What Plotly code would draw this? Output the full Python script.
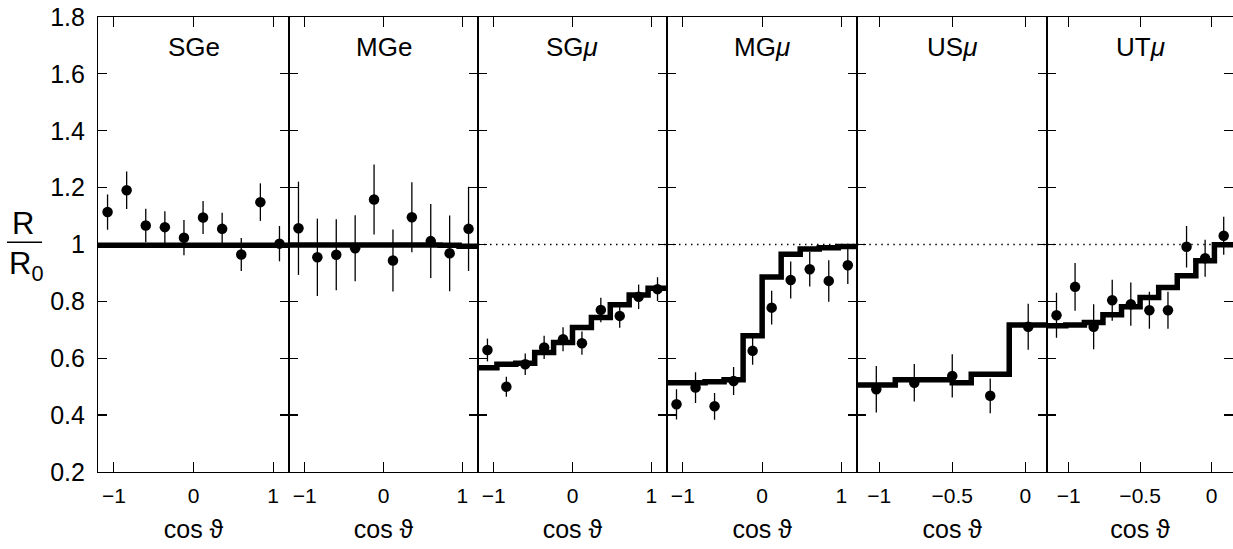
import plotly.graph_objects as go

# ---------------- data ----------------
panel_names = ["SGe", "MGe", "SG<i>μ</i>", "MG<i>μ</i>", "US<i>μ</i>", "UT<i>μ</i>"]

full_edges = [-1.2, -0.96, -0.72, -0.48, -0.24, 0.0, 0.24, 0.48, 0.72, 0.96, 1.2]
full_centres = [-1.08, -0.84, -0.6, -0.36, -0.12, 0.12, 0.36, 0.6, 0.84, 1.08]
half_edges = [-1.15, -1.02, -0.89, -0.76, -0.63, -0.5, -0.37, -0.24, -0.11, 0.02, 0.15]
half_centres10 = [-1.085, -0.955, -0.825, -0.695, -0.565, -0.435, -0.305, -0.175, -0.045, 0.085]
half_centres5 = [-1.02, -0.76, -0.5, -0.24, 0.02]

# measured ratios R/R0 and errors
sge_y = [1.114, 1.191, 1.067, 1.061, 1.024, 1.095, 1.055, 0.965, 1.149, 1.003]
sge_err = [0.062, 0.066, 0.059, 0.056, 0.062, 0.058, 0.057, 0.058, 0.066, 0.062]
mge_y = [1.057, 0.955, 0.964, 0.987, 1.158, 0.944, 1.096, 1.012, 0.969, 1.055]
mge_err = [0.164, 0.136, 0.125, 0.116, 0.123, 0.109, 0.123, 0.130, 0.133, 0.148]
sgmu_y = [0.629, 0.500, 0.579, 0.638, 0.667, 0.653, 0.770, 0.749, 0.816, 0.843]
sgmu_err = [0.040, 0.035, 0.038, 0.041, 0.042, 0.041, 0.043, 0.042, 0.043, 0.042]
mgmu_y = [0.438, 0.497, 0.431, 0.520, 0.626, 0.778, 0.875, 0.913, 0.872, 0.927]
mgmu_err = [0.053, 0.054, 0.047, 0.049, 0.049, 0.059, 0.065, 0.061, 0.073, 0.066]
usmu_y = [0.491, 0.514, 0.538, 0.468, 0.711]
usmu_err = [0.082, 0.066, 0.076, 0.061, 0.081]
utmu_y = [0.751, 0.851, 0.711, 0.804, 0.790, 0.769, 0.769, 0.992, 0.952, 1.031]
utmu_err = [0.079, 0.084, 0.079, 0.072, 0.076, 0.065, 0.065, 0.073, 0.065, 0.067]

# expectation (histogram) per bin
sge_exp = [0.997, 0.997, 0.997, 0.997, 0.997, 0.997, 0.997, 0.997, 0.997, 0.997]
mge_exp = [0.998, 0.998, 0.998, 0.998, 0.998, 0.998, 0.998, 0.998, 0.997, 0.994]
sgmu_exp = [0.567, 0.579, 0.582, 0.620, 0.655, 0.708, 0.743, 0.788, 0.822, 0.846]
mgmu_exp = [0.514, 0.514, 0.517, 0.524, 0.679, 0.886, 0.966, 0.984, 0.989, 0.993]
usmu_exp = [0.506, 0.506, 0.524, 0.524, 0.524, 0.514, 0.544, 0.544, 0.717, 0.717]
utmu_exp = [0.714, 0.717, 0.726, 0.753, 0.781, 0.814, 0.849, 0.890, 0.943, 0.999]

ref_level = 1.0

y_tickvals = [0.2, 0.4, 0.6, 0.8, 1.0, 1.2, 1.4, 1.6, 1.8]
y_ticktext = ["0.2", "0.4", "0.6", "0.8", "1", "1.2", "1.4", "1.6", "1.8"]
# positions of the left-side tick marks (a hair off the major values so they are kept)
y_marks = [0.4005, 0.6005, 0.8005, 1.0005, 1.2005, 1.4005, 1.6005]
full_xtickvals = [-1, 0, 1]
full_xticktext = ["\u22121", "0", "1"]
half_xtickvals = [-1, -0.5, 0]
half_xticktext = ["\u22121", "\u22120.5", "0"]
x_title = "cos \u03d1"

panels = [
    dict(x=full_centres, y=sge_y, err=sge_err, edges=full_edges, exp=sge_exp, half=False, dotted=False),
    dict(x=full_centres, y=mge_y, err=mge_err, edges=full_edges, exp=mge_exp, half=False, dotted=False),
    dict(x=full_centres, y=sgmu_y, err=sgmu_err, edges=full_edges, exp=sgmu_exp, half=False, dotted=True),
    dict(x=full_centres, y=mgmu_y, err=mgmu_err, edges=full_edges, exp=mgmu_exp, half=False, dotted=True),
    dict(x=half_centres5, y=usmu_y, err=usmu_err, edges=half_edges, exp=usmu_exp, half=True, dotted=True),
    dict(x=half_centres10, y=utmu_y, err=utmu_err, edges=half_edges, exp=utmu_exp, half=True, dotted=True),
]

# panel borders in paper fraction
bounds = [0.0, 0.1683, 0.3348, 0.5013, 0.6690, 0.8363, 1.0]

FONT = "Liberation Sans, Arial, Helvetica, sans-serif"

fig = go.Figure()
layout = dict(
    width=1233, height=549,
    margin=dict(l=98, r=0, t=17, b=77),
    paper_bgcolor="white", plot_bgcolor="white",
    showlegend=False,
    font=dict(family=FONT, color="black"),
)

annotations = []
for i, p in enumerate(panels):
    n = i + 1
    xs = "" if n == 1 else str(n)
    ys = xs
    rng = [-1.15, 0.15] if p["half"] else [-1.2, 1.2]

    # dotted reference line at R/R0 = 1
    if p["dotted"]:
        fig.add_trace(go.Scatter(
            x=[rng[0], rng[1]], y=[ref_level, ref_level], mode="lines",
            line=dict(color="black", width=1.4, dash="1.5px,4.5px"),
            xaxis="x" + xs, yaxis="y" + ys, hoverinfo="skip"))

    # expectation histogram
    fig.add_trace(go.Scatter(
        x=p["edges"], y=p["exp"] + [p["exp"][-1]], mode="lines",
        line=dict(color="black", width=5.5, shape="hv"),
        xaxis="x" + xs, yaxis="y" + ys, hoverinfo="skip"))

    # data points
    fig.add_trace(go.Scatter(
        x=p["x"], y=p["y"], mode="markers",
        marker=dict(color="black", size=10.5),
        error_y=dict(type="data", array=p["err"], color="black", thickness=1.3, width=0),
        xaxis="x" + xs, yaxis="y" + ys))

    layout["xaxis" + xs] = dict(
        domain=[bounds[i], bounds[i + 1]], anchor="y" + ys, range=rng,
        tickmode="array",
        tickvals=half_xtickvals if p["half"] else full_xtickvals,
        ticktext=half_xticktext if p["half"] else full_xticktext,
        ticks="inside", ticklen=10, tickwidth=1.3, tickcolor="black",
        showline=True, linewidth=1.3, linecolor="black", mirror="ticks",
        showgrid=False, zeroline=False,
        tickfont=dict(size=21, family=FONT, color="black"),
        ticklabelstandoff=5,
        title=dict(text=x_title, font=dict(size=25, family=FONT, color="black"), standoff=14),
    )
    layout["yaxis" + ys] = dict(
        domain=[0, 1], anchor="x" + xs, range=[0.2, 1.8],
        tickmode="array", tickvals=y_tickvals,
        ticktext=[t + "\u00a0" for t in y_ticktext],
        ticks="inside", ticklen=9, tickwidth=1.4, tickcolor="black",
        showline=True, linewidth=1.3, linecolor="black", mirror="ticks",
        showgrid=False, zeroline=False,
        showticklabels=(n == 1),
        tickfont=dict(size=25, family=FONT, color="black"),
        minor=dict(tickmode="array", tickvals=y_marks, ticks="inside",
                   ticklen=9, tickwidth=1.4, tickcolor="black"),
    )
    annotations.append(dict(
        text=panel_names[i], xref="x" + xs + " domain", x=0.5, yref="paper", y=0.934,
        xanchor="center", yanchor="middle", showarrow=False,
        font=dict(size=26, family=FONT, color="black")))

# y-axis fraction label R / R0
annotations.append(dict(text="R", xref="paper", yref="paper", x=-0.066, y=0.547,
                        xanchor="center", yanchor="middle", showarrow=False,
                        font=dict(size=31, family=FONT, color="black")))
annotations.append(dict(text="R<sub>0</sub>", xref="paper", yref="paper", x=-0.063, y=0.452,
                        xanchor="center", yanchor="middle", showarrow=False,
                        font=dict(size=31, family=FONT, color="black")))
layout["shapes"] = [dict(type="line", xref="paper", yref="paper",
                         x0=-0.0802, x1=-0.0493, y0=0.505, y1=0.505,
                         line=dict(color="black", width=1.5))]
layout["annotations"] = annotations

fig.update_layout(**layout)
fig.write_html("out.html")
